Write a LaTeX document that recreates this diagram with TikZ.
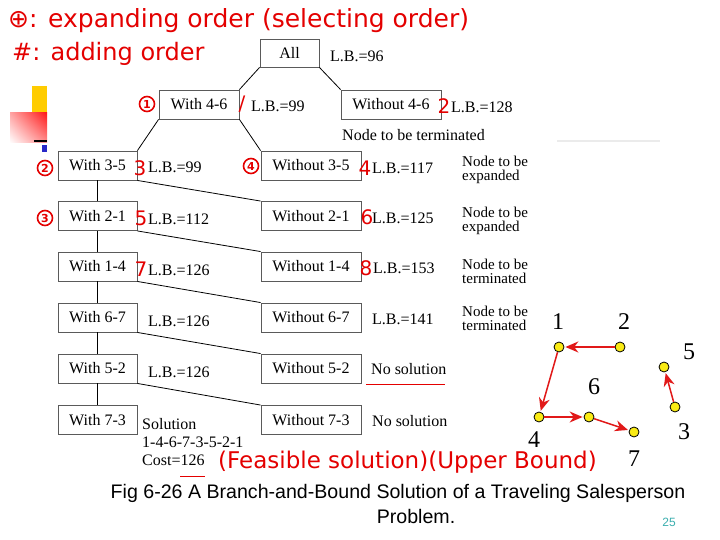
\documentclass[tikz,border=0pt]{standalone}
\usepackage{fontspec}
\setmainfont{Liberation Serif}
\newfontfamily\capfont{Liberation Sans}
\newfontfamily\hand{DejaVu Sans}
\usetikzlibrary{arrows.meta,shadings}
\definecolor{hred}{RGB}{228,0,0}
\definecolor{ared}{RGB}{225,25,25}
\definecolor{pyel}{RGB}{250,235,20}
\definecolor{pgnum}{RGB}{60,175,175}
\definecolor{boxgray}{RGB}{90,90,90}
\tikzset{
  tbox/.style={draw=boxgray, line width=0.9pt, minimum height=29pt, inner sep=0pt, font=\fontsize{16}{18}\selectfont},
  wbox/.style={tbox, minimum width=79pt},
  wobox/.style={tbox, minimum width=100pt},
  lb/.style={anchor=west, inner sep=0pt, font=\fontsize{16}{18}\selectfont},
  note/.style={anchor=west, inner sep=0pt, align=left, font=\fontsize{15}{14}\selectfont},
  conn/.style={line width=0.8pt},
  hw/.style={text=hred, inner sep=0pt},
  hnum/.style={text=hred, inner sep=0pt, font=\hand\fontsize{20}{20}\selectfont},
  cnum/.style={circle, draw=hred, line width=1.6pt, text=hred, inner sep=0pt, minimum size=15pt, font=\hand\bfseries\fontsize{11}{12}\selectfont},
  city/.style={circle, draw=black, fill=pyel, line width=0.8pt, minimum size=10pt, inner sep=0pt},
  clab/.style={inner sep=0pt, font=\fontsize{24}{26}\selectfont},
  tour/.style={draw=ared, line width=1.5pt, -{Stealth[length=13pt,width=11pt]}, shorten >=1pt}
}
\begin{document}
\begin{tikzpicture}[x=1pt,y=-1pt]
\useasboundingbox (0,0) rectangle (720,540);
\fill[white] (0,0) rectangle (720,540);

% decoration top-left
\fill[fill={rgb,255:red,255;green,204;blue,0}] (32,86) rectangle (47,113);
\shade[upper right=red!90, upper left=red!35!white, lower right=red!45!white, lower left=white] (10,113) rectangle (47,143);
\draw[line width=2pt] (34,141.5) -- (47,141.5);
\fill[fill={rgb,255:red,40;green,40;blue,200}] (42,145) rectangle (47,152);
\draw[black!8, line width=1.2pt] (557,141) -- (660,141);

% handwritten notes
\node[hw, anchor=west, font=\hand\fontsize{25}{26}\selectfont] (h1) at (8,21) {⊕: expanding order (selecting order)};
\node[hw, anchor=west, font=\hand\fontsize{24}{26}\selectfont] (h2) at (12,54) {\#: adding order};
\node[hw, anchor=west, font=\hand\fontsize{23}{26}\selectfont] (h3) at (218,462) {(Feasible solution)(Upper Bound)};

% tree
\node[tbox, minimum width=59pt, minimum height=28pt] (all) at (289.5,53) {All};
\node[lb] (lball) at (330,56) {L.B.=96};

\node[tbox, minimum width=80pt] (w46) at (199,104.5) {With 4-6};
\node[wobox] (o46) at (391,104.5) {Without 4-6};
\node[lb] (lbw46) at (251,106) {L.B.=99};
\node[lb] (lbo46) at (451,107) {L.B.=128};
\node[anchor=west, inner sep=0pt, font=\fontsize{16}{18}\selectfont] (term0) at (342,135) {Node to be terminated};

\node[wbox] (w35) at (97.5,165.5) {With 3-5};
\node[wobox] (o35) at (311,165.5) {Without 3-5};
\node[lb] (lbw35) at (148,167) {L.B.=99};
\node[lb] (lbo35) at (372,168) {L.B.=117};
\node[note] (n35) at (462,170) {Node to be\\expanded};

\node[wbox] (w21) at (97.5,216) {With 2-1};
\node[wobox] (o21) at (311,216) {Without 2-1};
\node[lb] (lbw21) at (148,219.5) {L.B.=112};
\node[lb] (lbo21) at (372,218) {L.B.=125};
\node[note] (n21) at (462,221) {Node to be\\expanded};

\node[wbox] (w14) at (97.5,266.5) {With 1-4};
\node[wobox] (o14) at (311,266.5) {Without 1-4};
\node[lb] (lbw14) at (148,270) {L.B.=126};
\node[lb] (lbo14) at (373,268.5) {L.B.=153};
\node[note] (n14) at (462,271) {Node to be\\terminated};

\node[wbox] (w67) at (97.5,317.5) {With 6-7};
\node[wobox] (o67) at (311,317.5) {Without 6-7};
\node[lb] (lbw67) at (148,321.5) {L.B.=126};
\node[lb] (lbo67) at (372,319.5) {L.B.=141};
\node[note] (n67) at (462,318) {Node to be\\terminated};

\node[wbox] (w52) at (97.5,368.5) {With 5-2};
\node[wobox] (o52) at (311,368.5) {Without 5-2};
\node[lb] (lbw52) at (148,372) {L.B.=126};
\node[lb] (ns52) at (371,369) {No solution};

\node[wbox] (w73) at (97.5,420) {With 7-3};
\node[wobox] (o73) at (311,420) {Without 7-3};
\node[lb] (ns73) at (372,421.5) {No solution};
\node[anchor=north west, inner sep=0pt, align=left, font=\fontsize{16}{18}\selectfont] (sol) at (142,418) {Solution\\1-4-6-7-3-5-2-1\\Cost=126};

\draw[conn] (all.south west) -- (w46.north east);
\draw[conn] (all.south east) -- (o46.north west);
\draw[conn] (w46.south west) -- (w35.north east);
\draw[conn] (w46.south east) -- (o35.north west);
\draw[conn] (w35) -- (w21);
\draw[conn] (w35.south east) -- (o21.north west);
\draw[conn] (w21) -- (w14);
\draw[conn] (w21.south east) -- (o14.north west);
\draw[conn] (w14) -- (w67);
\draw[conn] (w14.south east) -- (o67.north west);
\draw[conn] (w67) -- (w52);
\draw[conn] (w67.south east) -- (o52.north west);
\draw[conn] (w52) -- (w73);
\draw[conn] (w52.south east) -- (o73.north west);

% red underlines
\coordinate (u1a) at (366,384); \coordinate (u1b) at (445,384);
\draw[hred, line width=1pt] (u1a) -- (u1b);
\coordinate (u2a) at (180,476); \coordinate (u2b) at (205,476);
\draw[hred, line width=1pt] (u2a) -- (u2b);

% red annotations
\node[cnum] (c1) at (147,104) {1};
\node[cnum] (c2) at (45,168) {2};
\node[cnum] (c3) at (45,218) {3};
\node[cnum] (c4) at (251,166) {4};
\node[hnum] (r1) at (242,104) {/};
\node[hnum] (r2) at (444,106) {2};
\node[hnum] (r3) at (140,168) {3};
\node[hnum] (r4) at (365,168) {4};
\node[hnum] (r5) at (141,218) {5};
\node[hnum] (r6) at (367,217) {6};
\node[hnum] (r7) at (141,269) {7};
\node[hnum] (r8) at (366,268) {8};

% tour graph
\node[city] (p1) at (559,347) {};
\node[city] (p2) at (620,347) {};
\node[city] (p5) at (664,367) {};
\node[city] (p6) at (589,417) {};
\node[city] (p4) at (539,417) {};
\node[city] (p7) at (634,432) {};
\node[city] (p3) at (675,407) {};
\node[clab] (l1) at (558,322) {1};
\node[clab] (l2) at (624,322) {2};
\node[clab] (l5) at (689,352) {5};
\node[clab] (l6) at (594,387) {6};
\node[clab] (l4) at (534,440) {4};
\node[clab] (l7) at (634,459) {7};
\node[clab] (l3) at (684,432) {3};
\draw[tour] (p2) -- (p1);
\draw[tour] (p1) -- (p4);
\draw[tour] (p4) -- (p6);
\draw[tour] (p6) -- (p7);
\draw[tour] (p3) -- (p5);

% caption
\node[inner sep=0pt, font=\capfont\fontsize{19.6}{22}\selectfont] (cap1) at (398,493) {Fig 6-26 A Branch-and-Bound Solution of a Traveling Salesperson};
\node[inner sep=0pt, font=\capfont\fontsize{19.6}{22}\selectfont] (cap2) at (416,516) {Problem.};
\node[inner sep=0pt, text=pgnum, font=\capfont\fontsize{12}{14}\selectfont] (pg) at (669,522) {25};
\end{tikzpicture}
\end{document}
